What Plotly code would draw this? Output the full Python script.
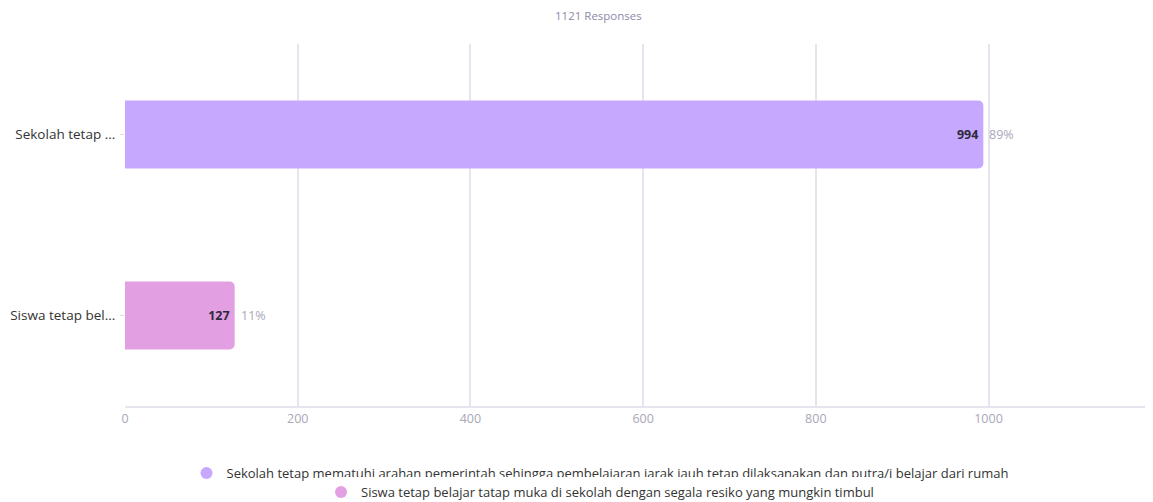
import plotly.graph_objects as go

categories = [
    "Sekolah tetap mematuhi arahan pemerintah sehingga pembelajaran jarak jauh tetap dilaksanakan dan putra/i belajar dari rumah",
    "Siswa tetap belajar tatap muka di sekolah dengan segala resiko yang mungkin timbul",
]
short_labels = ["Sekolah tetap ...", "Siswa tetap bel..."]
values = [994, 127]
percents = ["89%", "11%"]
colors = ["#C6A9FF", "#E2A0E3"]
total_label = "1121 Responses"
x_ticks = [0, 200, 400, 600, 800, 1000]

FONT = "Open Sans"
# page body has an 8px margin; figure sized to fit the viewport
OFF = 8
W, H = 1153 - OFF, 502 - OFF
ML, MR, MT, MB = 125 - OFF, 3, 44 - OFF, 96

fig = go.Figure()
for i, (cat, v, c) in enumerate(zip(categories, values, colors)):
    fig.add_trace(go.Bar(
        x=[v], y=[short_labels[i]], orientation="h",
        marker=dict(color=c, cornerradius=5, line=dict(width=0)),
        text=[f"<b>{v}</b>"], textposition="inside", insidetextanchor="end",
        textfont=dict(color="#2E2A3A", size=12.5, family=FONT),
        width=0.375, showlegend=False, hoverinfo="skip",
    ))
    fig.add_trace(go.Scatter(
        x=[None], y=[None], mode="markers",
        marker=dict(symbol="circle", size=13, color=c),
        name=cat, showlegend=True, legend="legend" if i == 0 else "legend2",
    ))
    fig.add_annotation(x=v, y=short_labels[i], text=percents[i], showarrow=False,
                       xanchor="left", xshift=4, font=dict(color="#A9A7B8", size=12.5, family=FONT))

fig.add_annotation(x=(598 - 125) / (W - ML - MR), y=1 + (44 - 16) / (H - MT - MB), yanchor="middle",
                   xref="paper", yref="paper", text=total_label, showarrow=False,
                   font=dict(color="#8E8AA8", size=11.5, family=FONT))

fig.update_layout(
    width=W, height=H,
    margin=dict(l=ML, r=MR, t=MT, b=MB, autoexpand=False),
    plot_bgcolor="white", paper_bgcolor="white",
    barmode="overlay",
    font=dict(family=FONT, color="#333333", size=13),
    xaxis=dict(range=[0, 1187], tickvals=x_ticks, showgrid=True, gridcolor="#E6E4EF", gridwidth=2,
               zeroline=False, showline=True, linecolor="#E6E4EF", linewidth=2,
               tickfont=dict(color="#A9A7B8", size=12.5), ticks="", automargin=False),
    yaxis=dict(categoryorder="array", categoryarray=short_labels[::-1], showgrid=False,
               ticks="outside", ticklen=4, tickcolor="#DDDBE6", ticklabelstandoff=2,
               tickfont=dict(color="#333333", size=13.5), zeroline=False, automargin=False),
    legend=dict(orientation="h", x=(600 - OFF) / W, xref="container", xanchor="center",
                y=1 - (473 - OFF) / H, yref="container", yanchor="middle",
                font=dict(size=13, color="#333333"), itemsizing="constant"),
    legend2=dict(orientation="h", x=(600 - OFF) / W, xref="container", xanchor="center",
                 y=1 - (492 - OFF) / H, yref="container", yanchor="middle",
                 font=dict(size=13, color="#333333"), itemsizing="constant"),
)

fig.write_html("out.html")
